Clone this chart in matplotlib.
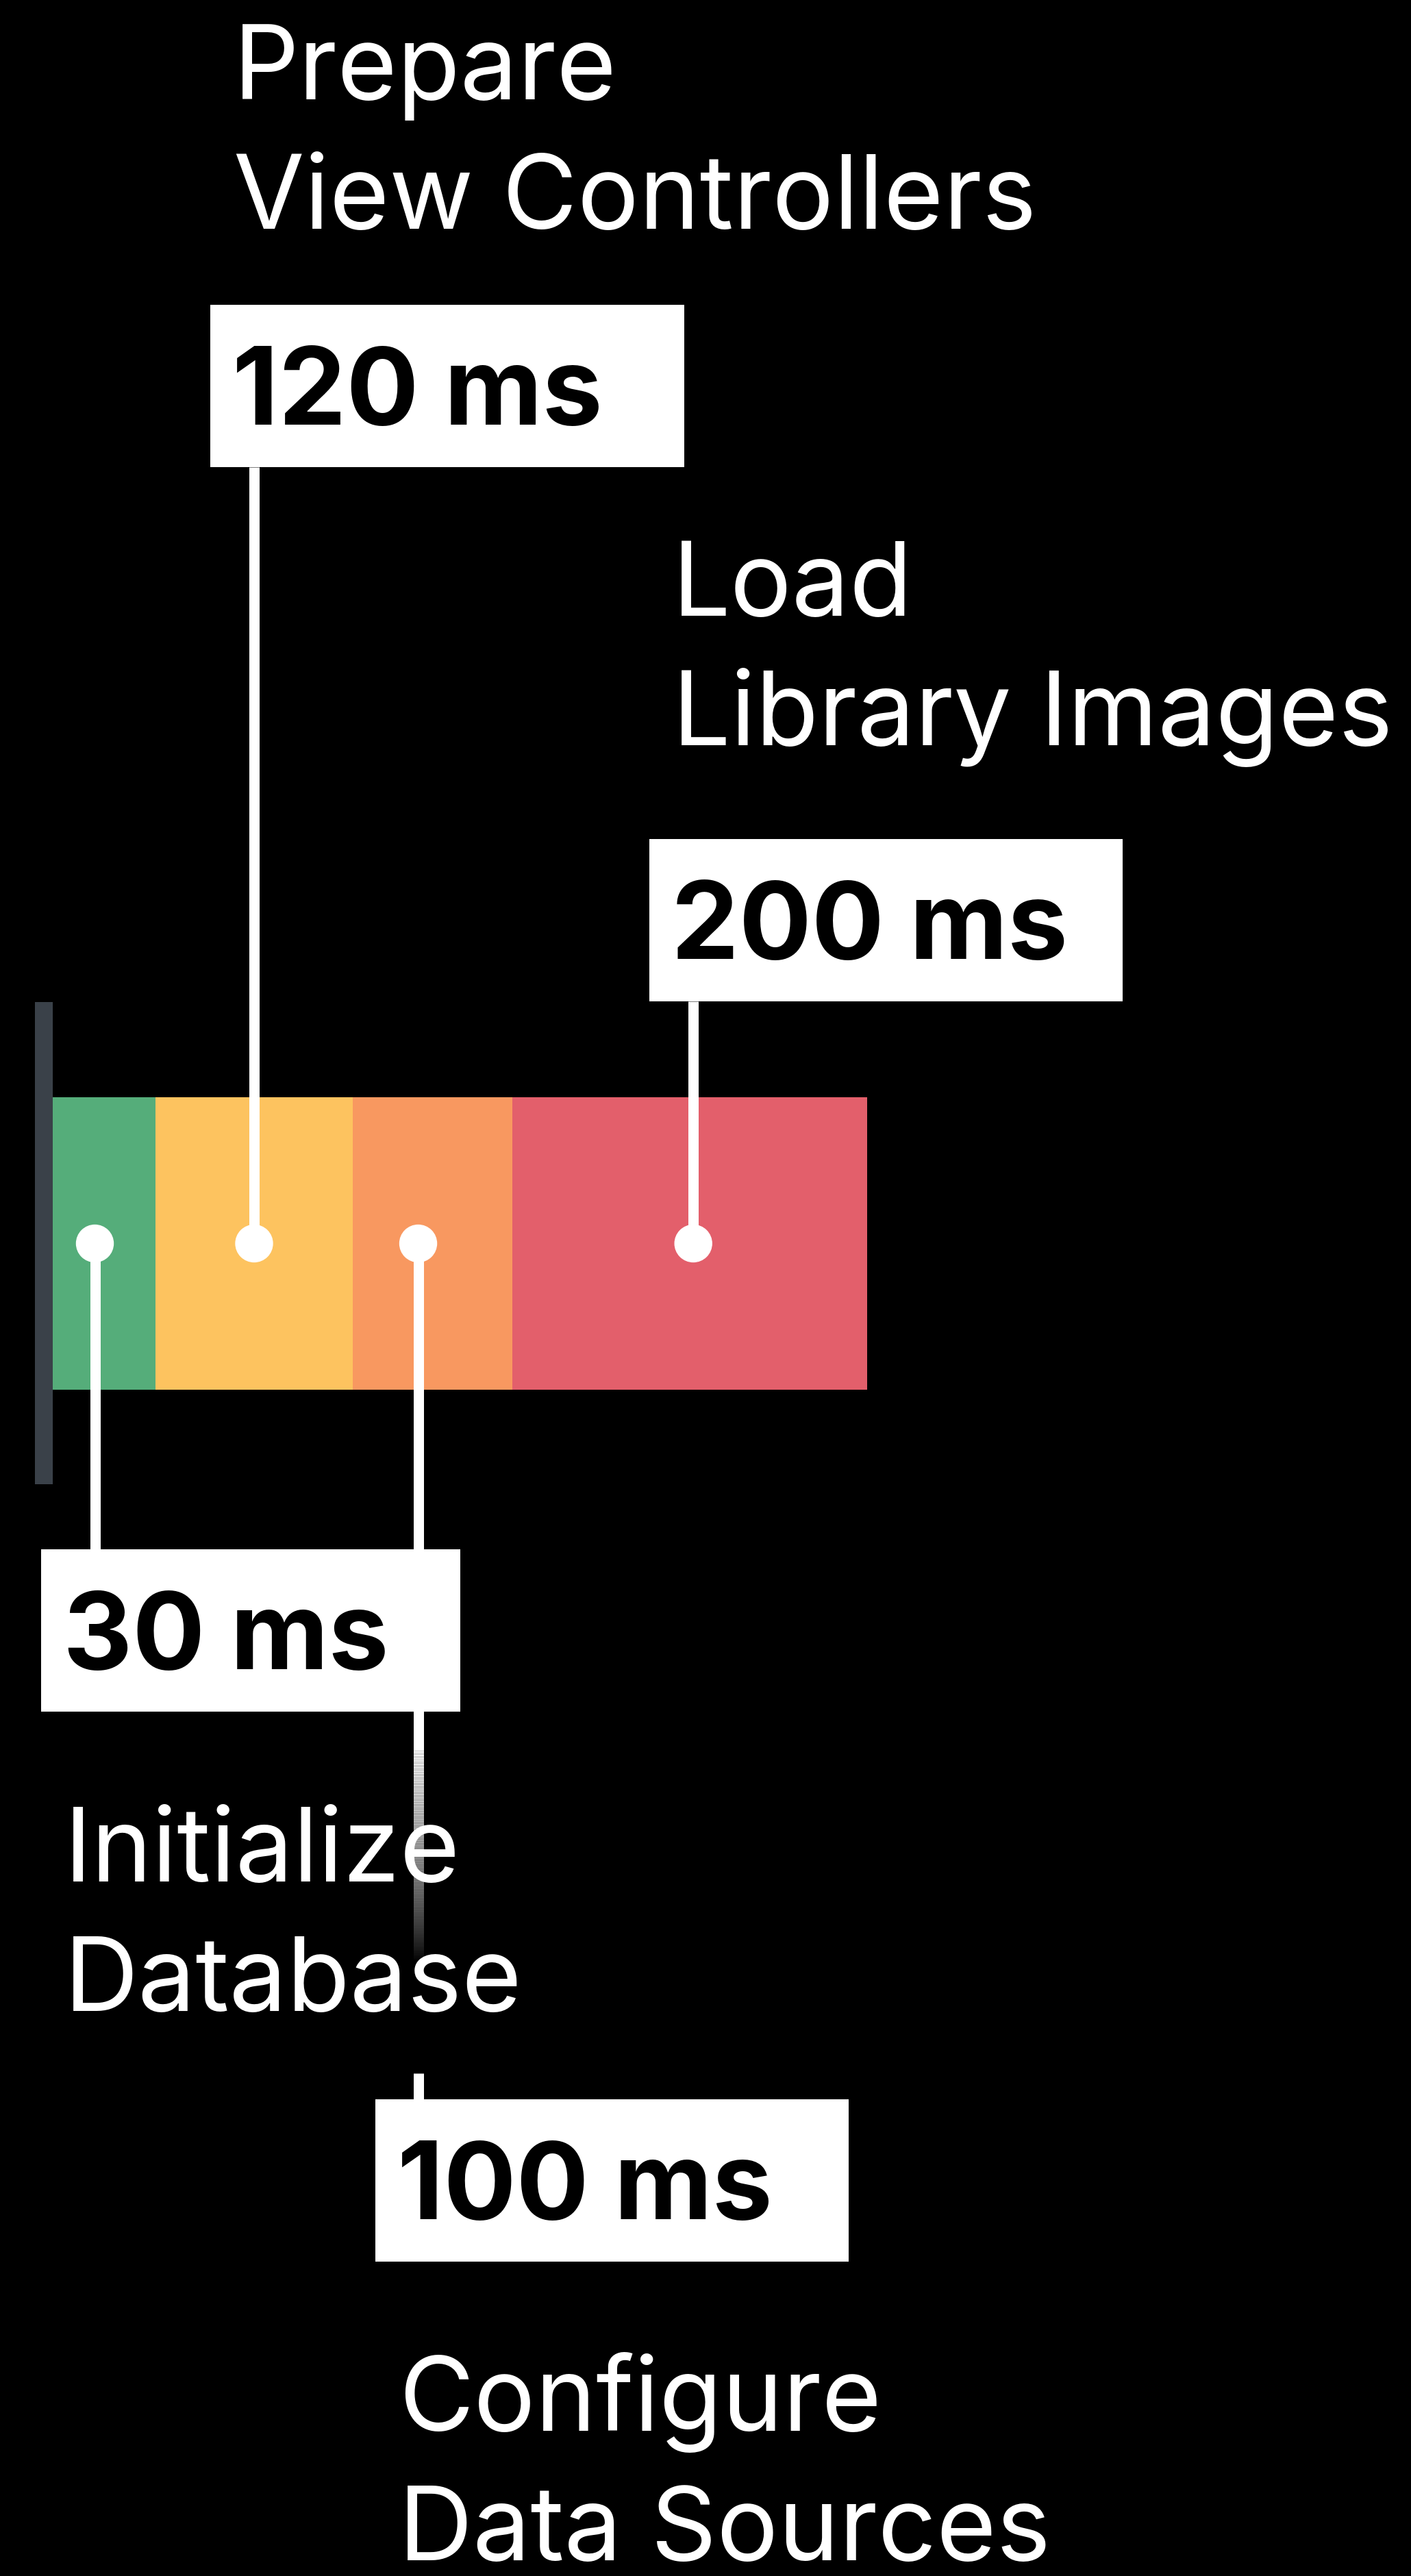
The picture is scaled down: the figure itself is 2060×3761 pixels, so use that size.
"""
Launch timeline: time spent in each startup phase, with callout labels.
"""

import matplotlib.pyplot as plt
import numpy as np
from matplotlib.collections import LineCollection
from matplotlib.patches import Circle, Rectangle

# Phases, in the order they run along the bar
phases = [
    "Initialize\nDatabase",
    "Prepare\nView Controllers",
    "Configure\nData Sources",
    "Load\nLibrary Images",
]
durations_ms = [30, 120, 100, 200]
# drawn length of each segment (the diagram is not to scale)
segment_widths = [150, 288, 233, 518]
colors = ["#55AD7A", "#FDC35F", "#F89860", "#E35F6B"]

# Canvas in pixels, y runs downwards
W, H = 2060, 3762
DPI = 100
PX = 72 / DPI  # points per pixel

BAR_LEFT = 77
BAR_TOP, BAR_BOTTOM = 1603, 2030
AXIS_TOP, AXIS_BOTTOM = 1464, 2168

# callout layout per phase
box_lefts = [60, 307, 548, 948]
box_tops = [2263, 446, 3066, 1226]
box_widths = [612, 692, 691, 691]
BOX_H = 237
title_baselines = [2747, 145, 3549, 899]
LINE_GAP = 189
dot_fracs = [0.41, 0.5, 0.41, 0.51]
# the Configure leader fades out behind the Initialize text
fade = {2: (2557, 2865, 3028)}

FONT = ["Inter", "DejaVu Sans"]
TITLE_SIZE = 108
VALUE_SIZE = 113
LEADER_W = 15 * PX


def draw_leader(ax, x, y0, y1):
    ax.plot([x, x], [y0, y1], color="white", lw=LEADER_W,
            solid_capstyle="butt", zorder=2)


def draw_fading_leader(ax, x, y0, y1):
    ys = np.linspace(y0, y1, 120)
    segs = [[(x, a), (x, b)] for a, b in zip(ys[:-1], ys[1:])]
    alpha = np.linspace(1, 0, len(segs)) ** 0.8
    cols = [(1, 1, 1, a) for a in alpha]
    lc = LineCollection(segs, colors=cols, linewidths=LEADER_W,
                        capstyle="butt", zorder=2)
    ax.add_collection(lc)


def main():
    fig = plt.figure(figsize=(W / DPI, H / DPI), dpi=DPI, facecolor="black")
    ax = fig.add_axes([0, 0, 1, 1])
    ax.set_xlim(0, W)
    ax.set_ylim(H, 0)
    ax.axis("off")

    # timeline bar
    lefts = BAR_LEFT + np.concatenate([[0], np.cumsum(segment_widths)[:-1]])
    bar_mid = (BAR_TOP + BAR_BOTTOM) / 2
    ax.barh(bar_mid, segment_widths, left=lefts, height=BAR_BOTTOM - BAR_TOP,
            color=colors, linewidth=0, zorder=1)

    # start marker
    ax.vlines(BAR_LEFT - 13, AXIS_TOP, AXIS_BOTTOM, color="#3A4149",
              lw=26 * PX, zorder=1)

    for i, ms in enumerate(durations_ms):
        dot_x = lefts[i] + dot_fracs[i] * segment_widths[i]
        top = box_tops[i]
        above = top < BAR_TOP

        # leader line from the dot to the callout box
        if above:
            draw_leader(ax, dot_x, bar_mid, top + BOX_H)
        elif i in fade:
            solid_end, fade_end, stub_start = fade[i]
            draw_leader(ax, dot_x, bar_mid, solid_end)
            draw_fading_leader(ax, dot_x, solid_end, fade_end)
            draw_leader(ax, dot_x, stub_start, top)
        else:
            draw_leader(ax, dot_x, bar_mid, top)

        ax.add_patch(Circle((dot_x, bar_mid), 27, color="white", zorder=3))

        # value box
        ax.add_patch(Rectangle((box_lefts[i], top), box_widths[i], BOX_H,
                               facecolor="white", edgecolor="none", zorder=4))
        ax.text(box_lefts[i] + 32, top + 174, f"{ms} ms", color="black",
                family=FONT, fontsize=VALUE_SIZE, fontweight="bold",
                ha="left", va="baseline", zorder=5)

        # phase name, two lines
        for k, line in enumerate(phases[i].split("\n")):
            ax.text(box_lefts[i] + 34, title_baselines[i] + k * LINE_GAP,
                    line, color="white", family=FONT, fontsize=TITLE_SIZE,
                    ha="left", va="baseline", zorder=5)

    fig.savefig("out.png", dpi=DPI, facecolor="black")


if __name__ == "__main__":
    main()
